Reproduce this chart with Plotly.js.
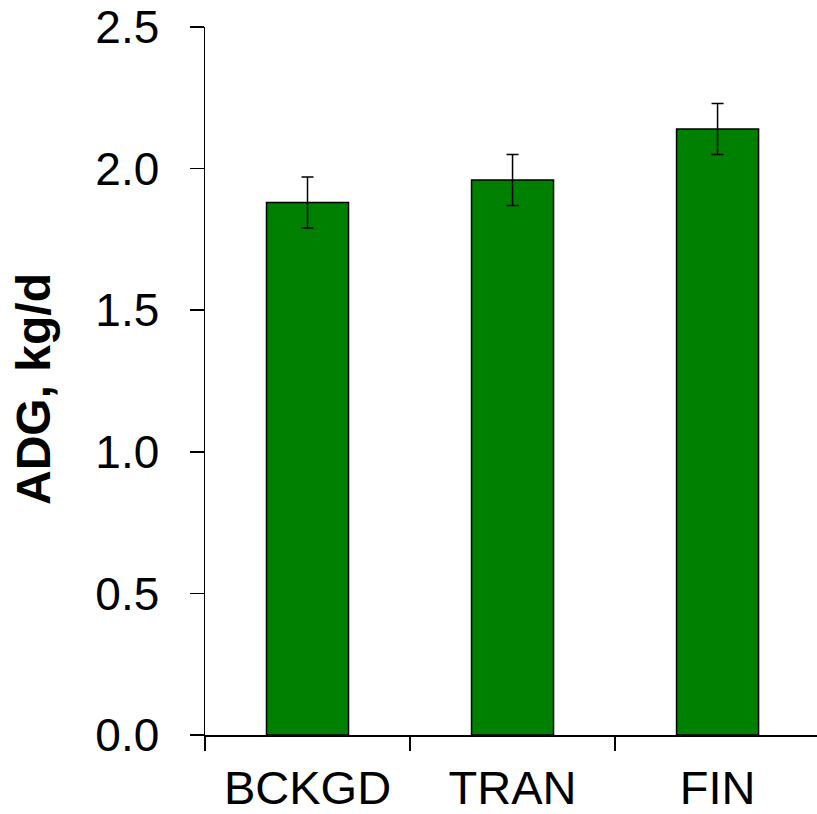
<!DOCTYPE html>
<html>
<head>
<meta charset="utf-8">
<script src="https://cdn.plot.ly/plotly-3.0.1.min.js"></script>
<style>
  html, body { margin: 0; padding: 0; background: #fff; overflow: hidden; }
  #chart { width: 817px; height: 814px; }
</style>
</head>
<body>
<div id="chart"></div>
<script>
// Average daily gain by feeding phase
const phases = ["BCKGD", "TRAN", "FIN"];
const adg = [1.88, 1.96, 2.14];
const adgError = [0.09, 0.09, 0.09];
const yTickVals = [0, 0.5, 1.0, 1.5, 2.0, 2.5];
const yTickText = ["0.0", "0.5", "1.0", "1.5", "2.0", "2.5"];
const yTitle = "ADG, kg/d";

const marginL = 205, marginT = 27, marginB = 79, figW = 817, figH = 814;
const plotW = figW - marginL, plotH = figH - marginT - marginB;

const trace = {
  type: "bar",
  x: phases,
  y: adg,
  width: 0.4,
  marker: { color: "#008000", line: { color: "#000000", width: 1.5 } },
  error_y: { type: "data", array: adgError, visible: true, color: "#000000", thickness: 1.5, width: 6 },
  hoverinfo: "none"
};

const layout = {
  width: figW,
  height: figH,
  margin: { l: marginL, r: 0, t: marginT, b: marginB },
  paper_bgcolor: "#ffffff",
  plot_bgcolor: "#ffffff",
  showlegend: false,
  font: { family: "Liberation Sans, Arial, sans-serif", color: "#000000" },
  xaxis: {
    type: "category",
    range: [-0.5, 2.485],
    showline: true,
    linecolor: "#000000",
    linewidth: 1.5,
    showgrid: false,
    zeroline: false,
    ticks: "outside",
    tickson: "boundaries",
    ticklen: 14,
    tickwidth: 1.5,
    tickcolor: "#000000",
    tickfont: { size: 47, color: "#000000" },
    ticklabelstandoff: 11
  },
  yaxis: {
    range: [0, 2.5],
    tickvals: yTickVals,
    ticktext: yTickText,
    showline: true,
    linecolor: "#000000",
    linewidth: 1.5,
    showgrid: false,
    zeroline: false,
    ticks: "outside",
    ticklen: 14,
    tickwidth: 1.5,
    tickcolor: "#000000",
    tickfont: { size: 46, color: "#000000" },
    ticklabelstandoff: 21
  },
  // y-axis title placed as a rotated label left of the tick labels
  annotations: [{
    text: "<b>" + yTitle + "</b>",
    xref: "paper", yref: "paper",
    x: (33 - marginL) / plotW,
    y: (figH - marginB - 389) / plotH,
    xanchor: "center", yanchor: "middle",
    textangle: -90,
    showarrow: false,
    font: { size: 48, color: "#000000" }
  }]
};

Plotly.newPlot("chart", [trace], layout, { displayModeBar: false, staticPlot: true });
</script>
</body>
</html>
